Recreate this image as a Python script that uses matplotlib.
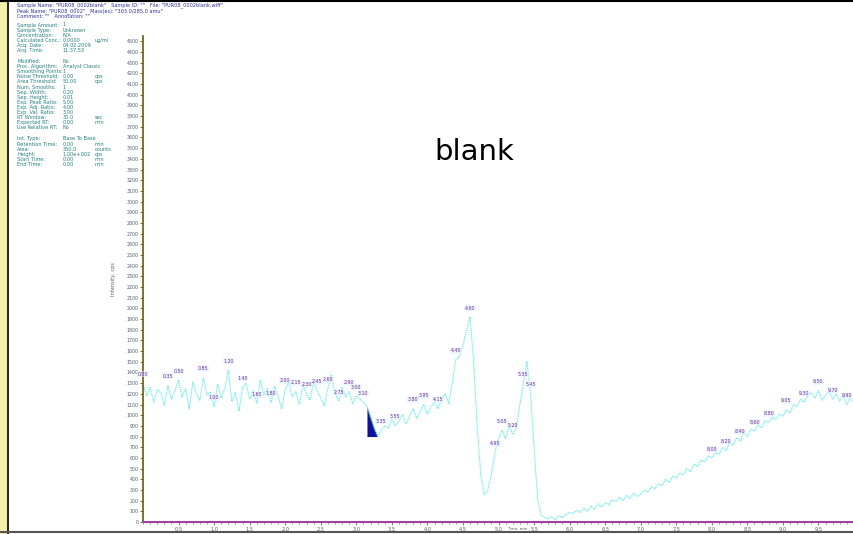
"""Blank-injection chromatogram screenshot, redrawn."""

import matplotlib

matplotlib.use("Agg")
import matplotlib.pyplot as plt  # noqa: E402
import numpy as np  # noqa: E402
from matplotlib.lines import Line2D  # noqa: E402
from matplotlib.patches import Rectangle  # noqa: E402

# --- Data ---------------------------------------------------------------

# retention time grid (min), 0.05 min steps
TIME = np.arange(0, 201) * 0.05

INTENSITY = np.array([
    # 0.00 - 1.00
    1300, 1180, 1260, 1120, 1240, 1210, 1090, 1280, 1150, 1230, 1330,
    1170, 1250, 1060, 1310, 1200, 1140, 1350, 1190, 1220, 1080,
    # 1.05 - 2.00
    1290, 1160, 1250, 1420, 1130, 1210, 1040, 1260, 1300, 1150,
    1230, 1110, 1330, 1190, 1250, 1120, 1270, 1180, 1060, 1240,
    # 2.05 - 3.00
    1310, 1170, 1220, 1100, 1280, 1200, 1140, 1320, 1230, 1160,
    1090, 1250, 1380, 1210, 1130, 1260, 1170, 1220, 1110, 1180,
    # 3.05 - 4.00
    1150, 1120, 1080, 980, 880, 800, 860, 900, 880, 960,
    900, 940, 1010, 920, 990, 1060, 970, 1040, 1100, 1010,
    # 4.05 - 5.00
    1080, 1120, 1060, 1150, 1200, 1110, 1300, 1520, 1550, 1650,
    1800, 1920, 1500, 900, 450, 250, 300, 450, 650, 780,
    # 5.05 - 6.00
    860, 780, 900, 820, 880, 1100, 1300, 1500, 1200, 700,
    220, 60, 40, 30, 50, 20, 60, 40, 70, 90,
    # 6.05 - 7.00
    80, 110, 90, 130, 100, 150, 120, 170, 140, 180,
    160, 210, 190, 230, 200, 250, 220, 270, 240, 260,
    # 7.05 - 8.00
    300, 280, 330, 310, 360, 340, 400, 370, 430, 410,
    460, 440, 500, 470, 540, 520, 580, 560, 620, 600,
    # 8.05 - 9.00
    650, 630, 700, 670, 740, 720, 790, 760, 840, 800,
    870, 850, 910, 880, 950, 930, 980, 960, 1010, 990,
    # 9.05 - 10.00
    1050, 1020, 1100, 1080, 1150, 1120, 1180, 1210, 1160, 1230,
    1140, 1190, 1220, 1150, 1200, 1130, 1180, 1100, 1160, 1120,
])

# apex times that carry a retention-time label
PEAK_TIMES = [
    0.00, 0.35, 0.50, 0.85, 1.00, 1.20, 1.40, 1.60, 1.80, 2.00,
    2.15, 2.30, 2.45, 2.60, 2.75, 2.90, 3.00, 3.10, 3.35, 3.55,
    3.80, 3.95, 4.15, 4.40, 4.60, 4.95, 5.05, 5.20, 5.35, 5.45,
    8.00, 8.20, 8.40, 8.60, 8.80, 9.05, 9.30, 9.50, 9.70, 9.90,
]

# integrated region drawn in dark blue
FILL_START, FILL_END = 3.15, 3.30

Y_TICKS = np.arange(0, 4600, 100)
X_TICKS = np.arange(0.5, 10.01, 0.5)

INFO_ROWS = [
    ("Sample Amount:", "1", ""),
    ("Sample Type:", "Unknown", ""),
    ("Concentration:", "N/A", ""),
    ("Calculated Conc.:", "0.0000", "ug/ml"),
    ("Acq. Date:", "04.02.2009", ""),
    ("Acq. Time:", "11:37:53", ""),
    None,
    ("Modified:", "No", ""),
    ("Proc. Algorithm:", "Analyst Classic", ""),
    ("Smoothing Points:", "1", ""),
    ("Noise Threshold:", "0.00", "cps"),
    ("Area Threshold:", "50.00", "cps"),
    ("Num. Smooths:", "1", ""),
    ("Sep. Width:", "0.20", ""),
    ("Sep. Height:", "0.01", ""),
    ("Exp. Peak Ratio:", "5.00", ""),
    ("Exp. Adj. Ratio:", "4.00", ""),
    ("Exp. Val. Ratio:", "3.00", ""),
    ("RT Window:", "30.0", "sec"),
    ("Expected RT:", "0.00", "min"),
    ("Use Relative RT:", "No", ""),
    None,
    ("Int. Type:", "Base To Base", ""),
    ("Retention Time:", "0.00", "min"),
    ("Area:", "350.0", "counts"),
    ("Height:", "1.00e+002", "cps"),
    ("Start Time:", "0.00", "min"),
    ("End Time:", "0.00", "min"),
]

HEADER = [
    "Sample Name: \"PUR08_0002blank\"   Sample ID: \"\"   File: \"PUR08_0002blank.wiff\"",
    "Peak Name: \"PUR08_0002\"   Mass(es): \"303.0/285.0 amu\"",
    "Comment: \"\"   Annotation: \"\"",
]

# --- Plot ---------------------------------------------------------------

W, H = 854, 534
fig = plt.figure(figsize=(W / 100, H / 100), dpi=100)
fig.patch.set_facecolor("white")


def px(x, y):
    """pixel (from top-left) -> figure fraction"""
    return x / W, 1 - y / H


# window frame
fig.add_artist(Rectangle((0, 0), 7 / W, 1, transform=fig.transFigure,
                         facecolor="#f4f0a8", edgecolor="none"))
fig.add_artist(Line2D([8 / W, 8 / W], [0, 1], transform=fig.transFigure,
                      color="black", linewidth=1.2))
fig.add_artist(Line2D([0, 1], [1 - 1 / H, 1 - 1 / H],
                      transform=fig.transFigure, color="black", linewidth=1.5))
fig.add_artist(Line2D([0, 1], [1 - 532 / H, 1 - 532 / H],
                      transform=fig.transFigure, color="#555555", linewidth=1.5))

# header + parameter block
header_y = [5, 11, 17]
for line, y in zip(HEADER, header_y):
    fig.text(*px(17, y), line, fontsize=3.6, color="#3030a0",
             va="center", ha="left")

row_y = 25
for row in INFO_ROWS:
    if row is None:
        row_y += 6
        continue
    label, value, unit = row
    fig.text(*px(17, row_y), label, fontsize=3.6, color="#208080",
             va="center", ha="left")
    fig.text(*px(63, row_y), value, fontsize=3.6, color="#208080",
             va="center", ha="left")
    if unit:
        fig.text(*px(95, row_y), unit, fontsize=3.6, color="#208080",
                 va="center", ha="left")
    row_y += 5.1

# chart axes
ax_left, ax_right = 143, 854
ax_top, ax_bottom = 36, 522
ax = fig.add_axes([ax_left / W, 1 - ax_bottom / H,
                   (ax_right - ax_left) / W, (ax_bottom - ax_top) / H])

ax.plot(TIME, INTENSITY, color="#66f0f0", linewidth=0.8,
        linestyle=(0, (1.2, 0.6)))

fill_mask = (TIME >= FILL_START - 1e-9) & (TIME <= FILL_END + 1e-9)
ax.fill_between(TIME[fill_mask], INTENSITY[fill_mask].min(),
                INTENSITY[fill_mask], color="#1010a0", linewidth=0)

for t in PEAK_TIMES:
    idx = int(round(t / 0.05))
    ax.text(t, INTENSITY[idx] + 60, f"{t:.2f}", fontsize=3.4,
            color="#7a2a9a", ha="center", va="bottom",
            bbox=dict(boxstyle="square,pad=0.1", facecolor="#e0f0ff",
                      edgecolor="none", alpha=0.6))

ax.set_xlim(0, 10.0)
ax.set_ylim(0, 4550)
ax.set_xticks(X_TICKS)
ax.set_xticklabels([f"{v:.1f}" for v in X_TICKS[:-1]] + [""])
ax.set_xticks(np.arange(0, 10.01, 0.1), minor=True)
ax.set_yticks(Y_TICKS)
ax.set_yticklabels([f"{v:d}" for v in Y_TICKS])

for side in ("top", "right"):
    ax.spines[side].set_visible(False)
ax.spines["left"].set_color("#6b5a00")
ax.spines["left"].set_linewidth(1.2)
ax.spines["bottom"].set_color("#a040a0")
ax.spines["bottom"].set_linewidth(1.5)

ax.tick_params(axis="y", labelsize=3.4, length=2, width=0.6,
               colors="#6b5a00", labelcolor="#506070", pad=1)
ax.tick_params(axis="x", labelsize=3.6, length=2.5, width=0.6,
               colors="#a040a0", labelcolor="#506070", pad=1)
ax.tick_params(axis="x", which="minor", length=1.2, width=0.5,
               colors="#40a040")

ax.set_ylabel("Intensity, cps", fontsize=3.6, color="#506070", labelpad=8)

fig.text(*px(517, 529), "Time, min", fontsize=3.0, color="#506070",
         ha="center", va="center")

fig.text(*px(474, 152), "blank", fontsize=21, ha="center", va="center",
         color="black")

fig.savefig("out.png", dpi=100)
plt.close(fig)
